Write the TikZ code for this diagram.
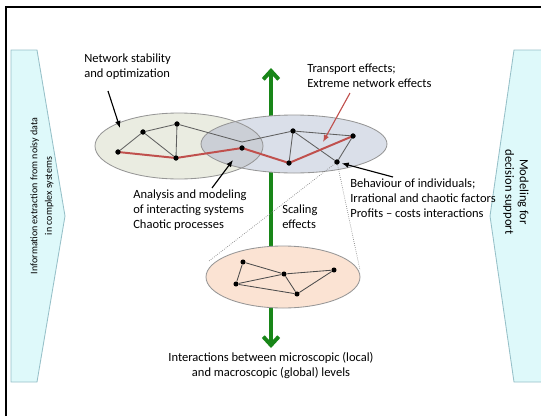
\documentclass[tikz,border=0pt]{standalone}
\usepackage{fontspec}
\setmainfont{Carlito}
\usetikzlibrary{arrows.meta}
\definecolor{sidefill}{RGB}{222,249,250}
\definecolor{sidedraw}{RGB}{150,192,200}
\definecolor{leftfill}{RGB}{234,236,225}
\definecolor{rightfill}{RGB}{218,223,233}
\definecolor{overlapfill}{RGB}{203,207,214}
\definecolor{lowfill}{RGB}{251,227,211}
\definecolor{rimgray}{RGB}{150,150,150}
\definecolor{scalegreen}{RGB}{24,134,24}
\definecolor{pathred}{RGB}{192,80,77}
\definecolor{edgegray}{RGB}{95,95,95}

\begin{document}
\begin{tikzpicture}[
    x=0.025cm, y=-0.025cm,
    dot/.style={circle, fill=black, inner sep=0pt, minimum size=3.6pt},
    link/.style={edgegray, line width=0.6pt},
    route/.style={pathred, line width=1.4pt},
    pointer/.style={-{Latex[length=5pt,width=4pt]}, line width=0.8pt},
    lbl/.style={align=left, font=\fontsize{8.9}{10.4}\selectfont, inner sep=0pt},
    level/.style={draw=rimgray, line width=0.6pt},
    side/.style={fill=sidefill, draw=sidedraw, line width=0.6pt},
    zoomline/.style={gray, densely dotted, line width=0.5pt}
]
    \useasboundingbox (0,0) rectangle (541,416);

    % Frame
    \draw[line width=1.4pt] (6,416) -- (6,7) -- (541,7);

    % Side arrows
    \draw[side] (11,50) -- (37,50) -- (65,216) -- (37,382) -- (11,382) -- cycle;
    \draw[side] (544,50) -- (514,50) -- (490,216) -- (514,382) -- (544,382);
    \node[lbl, align=center, rotate=90, font=\fontsize{7.1}{10.2}\selectfont] (extract) at (42,196)
        {Information extraction from noisy data\\in complex systems};
    \node[lbl, align=center, rotate=-90] (decide) at (516,192)
        {Modeling for\\decision support};

    % Scaling axis (behind the levels)
    \coordinate (axtop) at (271,68);
    \coordinate (axbot) at (271,348);
    \draw[scalegreen, line width=2.8pt,
          {Straight Barb[length=6pt,width=11pt]}-{Straight Barb[length=6pt,width=11pt]}]
        (axbot) -- (axtop);

    % Levels
    \fill[leftfill] (179,146) ellipse [x radius=84, y radius=33];
    \fill[rightfill] (294,144) ellipse [x radius=93, y radius=29];
    \begin{scope}
        \clip (179,146) ellipse [x radius=84, y radius=33];
        \fill[overlapfill] (294,144) ellipse [x radius=93, y radius=29];
    \end{scope}
    \draw[level] (179,146) ellipse [x radius=84, y radius=33];
    \draw[level] (294,144) ellipse [x radius=93, y radius=29];
    \draw[level, fill=lowfill] (283,277) ellipse [x radius=77, y radius=31];

    % Upper network
    \node[dot] (u1) at (118,152) {};
    \node[dot] (u2) at (143,132) {};
    \node[dot] (u3) at (177,124) {};
    \node[dot] (u4) at (176,158) {};
    \node[dot] (u5) at (242,148) {};
    \node[dot] (u6) at (293,131) {};
    \node[dot] (u7) at (289,163) {};
    \node[dot] (u8) at (353,136) {};
    \node[dot] (u9) at (337,162) {};
    \coordinate (kink) at (242,142);

    \draw[link] (u1) -- (u2) -- (u3) -- (u4) -- (u2);
    \draw[link] (u3) -- (kink) -- (u6);
    \draw[link] (u7) -- (u6) -- (u8) -- (u9) -- (u6);
    \draw[route] (u1.center) -- (u4.center) -- (u5.center) -- (u7.center) -- (u8.center);
    \foreach \n in {u1,u2,u3,u4,u5,u6,u7,u8,u9}
        \fill (\n) circle (1.8pt);

    % Lower network
    \node[dot] (m1) at (243,262) {};
    \node[dot] (m2) at (284,274) {};
    \node[dot] (m3) at (334,270) {};
    \node[dot] (m4) at (236,284) {};
    \node[dot] (m5) at (297,294) {};
    \draw[link, black!70] (m1) -- (m4) -- (m2) -- (m3) -- (m5) -- (m4);
    \draw[link, black!70] (m1) -- (m2) -- (m5);

    % Zoom lines
    \coordinate (zoomL) at (209,261);
    \coordinate (zoomR) at (360,270);
    \draw[zoomline] (u9) -- (zoomL);
    \draw[zoomline] (u9) -- (zoomR);

    % Labels
    \node[lbl, anchor=north west] (stab) at (84,54) {Network stability\\and optimization};
    \node[lbl, anchor=north west] (anal) at (133,190) {Analysis and modeling\\of interacting systems\\Chaotic processes};
    \node[lbl, anchor=north west] (trans) at (307,64) {Transport effects;\\Extreme network effects};
    \node[lbl, anchor=north west] (behav) at (350,179) {Behaviour of individuals;\\Irrational and chaotic factors\\Profits -- costs interactions};
    \node[lbl, anchor=north west] (scal) at (282,205) {Scaling\\effects};
    \node[lbl, align=center, anchor=north] (inter) at (271,352) {Interactions between microscopic (local)\\and macroscopic (global) levels};

    % Pointers
    \coordinate (stabtail) at (108,91);
    \coordinate (stabtip) at (120,128);
    \coordinate (analtail) at (212,188);
    \coordinate (analtip) at (233,160);
    \coordinate (transtail) at (350,93);
    \coordinate (transtip) at (323,142);
    \coordinate (behavtail) at (393,177);
    \draw[pointer] (stabtail) -- (stabtip);
    \draw[pointer] (analtail) -- (analtip);
    \draw[pointer, pathred] (transtail) -- (transtip);
    \draw[pointer, shorten >=1.5pt] (behavtail) -- (u9);
\end{tikzpicture}
\end{document}
